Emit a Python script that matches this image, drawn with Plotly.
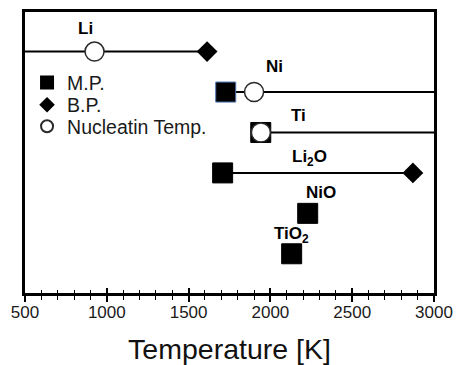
import plotly.graph_objects as go

# ---- data ----
materials = ["Li", "Ni", "Ti", "Li2O", "NiO", "TiO2"]
label_text = ["Li", "Ni", "Ti", "Li<sub>2</sub>O", "NiO", "TiO<sub>2</sub>"]
rows = [6, 5, 4, 3, 2, 1]
melting_point = [454, 1727, 1941, 1708, 2228, 2130]        # K
boiling_point = [1613, 3186, 3560, 2871, None, None]        # K
nucleation_temp = [925, 1900, 1942, None, None, None]       # K
x_ticks = [500, 1000, 1500, 2000, 2500, 3000]
x_range = [500, 3000]

FONT = "Liberation Sans, Arial, sans-serif"

fig = go.Figure()

# connecting lines MP -> BP (clipped by the axis range)
for name, r, mp, bp in zip(materials, rows, melting_point, boiling_point):
    if bp is None:
        continue
    fig.add_trace(go.Scatter(x=[mp, bp], y=[r, r], mode="lines",
                             line=dict(color="black", width=2),
                             showlegend=False, hoverinfo="skip"))

# markers only for points inside the plotted range (bottom row first so legend key is black)
mp_edge_all = ["black", "#4f74b3", "black", "black", "black", "black"]
keep = [i for i in reversed(range(len(rows))) if x_range[0] <= melting_point[i] <= x_range[1]]
fig.add_trace(go.Scatter(x=[melting_point[i] for i in keep], y=[rows[i] for i in keep],
                         mode="markers", name="M.P.",
                         marker=dict(symbol="square", size=20, color="black",
                                     line=dict(color=[mp_edge_all[i] for i in keep], width=1)),
                         legend="legend"))

bp_x = [b for b in boiling_point if b is not None and b <= x_range[1]]
bp_y = [r for r, b in zip(rows, boiling_point) if b is not None and b <= x_range[1]]
fig.add_trace(go.Scatter(x=bp_x, y=bp_y, mode="markers", name="B.P.",
                         marker=dict(symbol="diamond", size=16, color="black",
                                     line=dict(color="black", width=0)),
                         legend="legend2"))

nt_x = [n for n in nucleation_temp if n is not None]
nt_y = [r for r, n in zip(rows, nucleation_temp) if n is not None]
fig.add_trace(go.Scatter(x=nt_x, y=nt_y, mode="markers", name="Nucleatin Temp.",
                         marker=dict(symbol="circle", size=19, color="white",
                                     line=dict(color="#2a2a2a", width=1.5)),
                         legend="legend3"))

# material labels
label_pos = {"Li": (869, 6.58), "Ni": (2027, 5.62), "Ti": (2174, 4.43),
             "Li2O": (2241, 3.37), "NiO": (2308, 2.52), "TiO2": (2131, 1.46)}
for name, txt in zip(materials, label_text):
    lx, ly = label_pos[name]
    fig.add_annotation(x=lx, y=ly, text="<b>" + txt + "</b>", showarrow=False,
                       font=dict(family=FONT, size=17, color="black"))

leg_common = dict(font=dict(family=FONT, size=19.5, color="#1a1a1a"),
                  bgcolor="rgba(0,0,0,0)", itemsizing="constant",
                  xanchor="left", yanchor="middle", x=0.005)

fig.update_layout(
    width=457, height=365,
    margin=dict(l=24.5, r=22.5, t=12, b=72),
    paper_bgcolor="white", plot_bgcolor="white",
    font=dict(family=FONT, color="#1a1a1a"),
    legend=dict(y=0.748, **leg_common),
    legend2=dict(y=0.669, **leg_common),
    legend3=dict(y=0.592, **leg_common),
    xaxis=dict(range=x_range, tickvals=x_ticks, ticks="outside", ticklen=6, automargin=False,
               tickwidth=1.5, tickcolor="black", ticklabelstandoff=-4,
               minor=dict(dtick=100, ticks="outside", ticklen=4, tickwidth=1.2, tickcolor="black"),
               showline=True, linecolor="black", linewidth=2.5, mirror=True,
               showgrid=False, zeroline=False,
               tickfont=dict(family=FONT, size=17, color="#1a1a1a"),
               title=dict(text="Temperature [K]", font=dict(family=FONT, size=28.5, color="#111111"),
                          standoff=18)),
    xaxis2=dict(range=x_range, overlaying="x", tickvals=x_ticks, ticks="inside", ticklen=5,
                tickwidth=1.5, tickcolor="black", showticklabels=False, side="bottom",
                automargin=False,
                minor=dict(dtick=100, ticks="inside", ticklen=3, tickwidth=1.2, tickcolor="black"),
                showline=False, showgrid=False, zeroline=False),
    yaxis=dict(range=[0.03, 6.98], showticklabels=False, ticks="", showgrid=False, automargin=False,
               zeroline=False, showline=True, linecolor="black", linewidth=2.5, mirror=True),
)
# invisible trace on xaxis2 so the overlay axis (inner tick halves) is drawn
fig.add_trace(go.Scatter(x=[x_range[0]], y=[0.03], xaxis="x2", mode="markers",
                         marker=dict(opacity=0), showlegend=False, hoverinfo="skip"))

fig.write_html("out.html", config={"displayModeBar": False},
               post_script="document.body.style.margin='0';document.body.style.overflow='hidden';")
